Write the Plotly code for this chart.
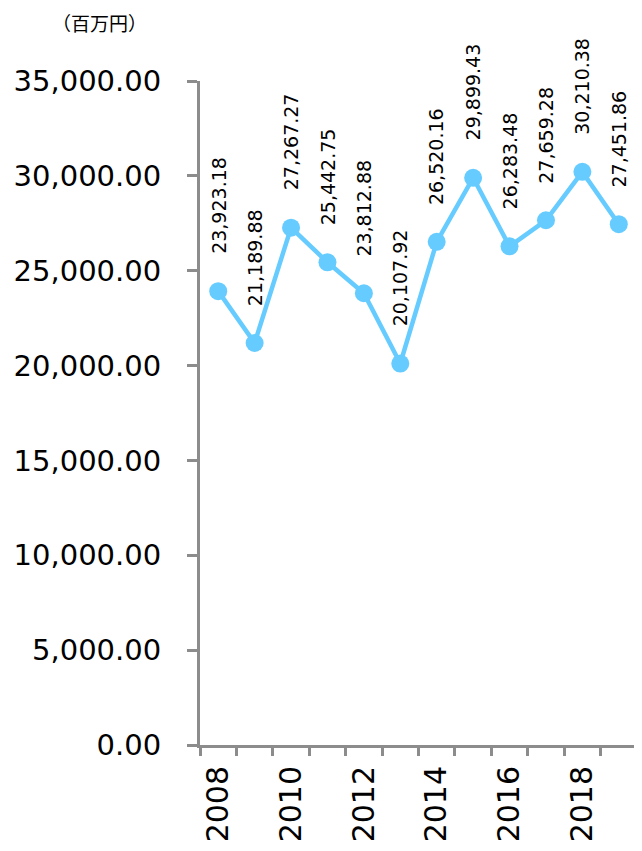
import plotly.graph_objects as go

years = ["2008", "2009", "2010", "2011", "2012", "2013", "2014", "2015", "2016", "2017", "2018", "2019"]
values = [23923.18, 21189.88, 27267.27, 25442.75, 23812.88, 20107.92, 26520.16, 29899.43, 26283.48, 27659.28, 30210.38, 27451.86]
y_ticks = [0, 5000, 10000, 15000, 20000, 25000, 30000, 35000]
unit_label = "（百万円）"

xs = list(range(len(years)))
line_color = "#66CCFF"
axis_color = "#8C8C8C"
font_family = "DejaVu Sans, Verdana, sans-serif"

# page is rendered with an 8px body margin; compensate
PLOT_L, PLOT_R, PLOT_T, PLOT_B = 200, 637, 81, 745
PW, PH = PLOT_R - PLOT_L, PLOT_B - PLOT_T


def px(x):
    return (x - PLOT_L) / PW


def py(y):
    return (PLOT_B - y) / PH


fig = go.Figure()
fig.add_trace(go.Scatter(
    x=xs, y=values, mode="lines+markers",
    line=dict(color=line_color, width=4.5),
    marker=dict(color=line_color, size=18),
    hoverinfo="skip", showlegend=False,
))

for i, v in enumerate(values):
    fig.add_annotation(
        x=xs[i], y=v, xref="x", yref="y",
        text=f"{v:,.2f}", textangle=-90, showarrow=False,
        xanchor="center", yanchor="bottom", yshift=35,
        font=dict(family=font_family, size=19, color="#000000"),
    )

fig.add_annotation(
    x=px(99), y=py(22), xref="paper", yref="paper", text=unit_label, showarrow=False,
    xanchor="center", yanchor="middle",
    font=dict(family="Noto Sans CJK JP, sans-serif", size=19, color="#000000"),
)

fig.update_layout(
    width=634, height=843,
    margin=dict(l=192, r=5, t=73, b=106, autoexpand=False),
    paper_bgcolor="white", plot_bgcolor="white",
    font=dict(family=font_family, color="#000000"),
    xaxis=dict(
        range=[-0.5, len(years) - 0.5],
        tickmode="array",
        tickvals=xs[::2], ticktext=years[::2],
        tickangle=-90, ticks="", ticklen=0, ticklabelstandoff=6,
        tickfont=dict(family=font_family, size=30, color="#000000"),
        showline=True, linecolor=axis_color, linewidth=3,
        showgrid=False, zeroline=False, automargin=False,
        minor=dict(tickvals=[i - 0.5 for i in range(len(years) + 1)],
                   ticks="outside", ticklen=8, tickwidth=3, tickcolor=axis_color, showgrid=False),
    ),
    yaxis=dict(
        range=[0, 35000],
        tickmode="array", tickvals=y_ticks,
        ticktext=[f"{t:,.2f}" for t in y_ticks],
        ticks="outside", ticklen=10, tickwidth=3, tickcolor=axis_color,
        ticklabelstandoff=20,
        tickfont=dict(family=font_family, size=29, color="#000000"),
        showline=True, linecolor=axis_color, linewidth=3,
        showgrid=False, zeroline=False, automargin=False,
    ),
)

fig.write_html("out.html")
